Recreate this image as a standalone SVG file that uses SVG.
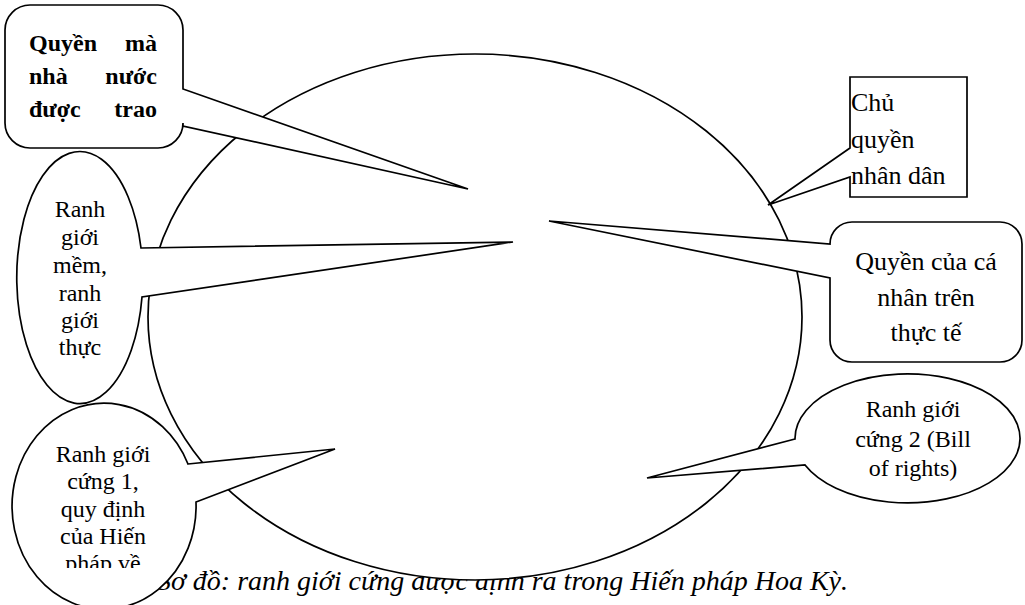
<svg xmlns="http://www.w3.org/2000/svg" width="1025" height="605" viewBox="0 0 1025 605">
<style>
.shape{fill:#fff;stroke:#000;stroke-width:1.7;stroke-linejoin:miter}
.t{font-family:"Liberation Serif","Times New Roman",serif;font-size:24px;fill:#000}
.big{font-size:26px}
.b{font-weight:bold}
.c{text-anchor:middle}
.cap{font-family:"Liberation Serif","Times New Roman",serif;font-size:28px;font-style:italic;fill:#000}
</style>
<defs>
<clipPath id="clip3"><rect x="0" y="400" width="220" height="168"/></clipPath>
</defs>
<rect width="1025" height="605" fill="#fff"/>
<text class="cap" x="848" y="590" text-anchor="end">Sơ đồ: ranh giới cứng được định ra trong Hiến pháp Hoa Kỳ.</text>
<g id="main-ellipse">
<ellipse class="shape" cx="475" cy="317" rx="327" ry="263"/>
</g>
<g id="connectors"></g>
<g id="node-quyen-nha-nuoc">
<path class="shape" d="M30,5 H158 A25,25 0 0 1 183,30 V89 L468,189 L183,126 V123 A25,25 0 0 1 158,148 H30 A25,25 0 0 1 5,123 V30 A25,25 0 0 1 30,5 Z"/>
<text class="t b" x="29" y="51">Quyền</text><text class="t b" x="157" y="51" text-anchor="end">mà</text>
<text class="t b" x="29" y="84">nhà</text><text class="t b" x="157" y="84" text-anchor="end">nước</text>
<text class="t b" x="29" y="117">được</text><text class="t b" x="157" y="117" text-anchor="end">trao</text>
</g>
<g id="node-ranh-gioi-mem">
<path class="shape" d="M141,248 L513,242 L142,297 A63,126 0 1 1 141,248 Z"/>
<text class="t c" x="80" y="217">Ranh</text>
<text class="t c" x="80" y="245">giới</text>
<text class="t c" x="80" y="273">mềm,</text>
<text class="t c" x="80" y="301">ranh</text>
<text class="t c" x="80" y="328">giới</text>
<text class="t c" x="80" y="355">thực</text>
</g>
<g id="node-ranh-gioi-cung-1">
<path class="shape" d="M188,464 L335,449 L196,502 A92,103 0 1 1 188,464 Z"/>
<g clip-path="url(#clip3)">
<text class="t c" x="103" y="462">Ranh giới</text>
<text class="t c" x="103" y="489">cứng 1,</text>
<text class="t c" x="103" y="517">quy định</text>
<text class="t c" x="103" y="544">của Hiến</text>
<text class="t c" x="103" y="571">pháp về</text>
</g>
</g>
<g id="node-chu-quyen">
<path class="shape" d="M850,77 H967 V197 H850 V177 L768,205 L850,148 Z"/>
<text class="t big" x="851" y="111">Chủ</text>
<text class="t big" x="851" y="148">quyền</text>
<text class="t big" x="851" y="184">nhân dân</text>
</g>
<g id="node-quyen-ca-nhan">
<path class="shape" d="M852,222 H1000 A22,22 0 0 1 1022,244 V340 A22,22 0 0 1 1000,362 H852 A22,22 0 0 1 830,340 V278 L549,221 L830,244 A22,22 0 0 1 852,222 Z"/>
<text class="t big c" x="926" y="270">Quyền của cá</text>
<text class="t big c" x="926" y="306">nhân trên</text>
<text class="t big c" x="926" y="341">thực tế</text>
</g>
<g id="node-ranh-gioi-cung-2">
<path class="shape" d="M795,439 L647,478 L805,465 A112.5,64.5 0 1 0 795,439 Z"/>
<text class="t c" x="913" y="417">Ranh giới</text>
<text class="t c" x="913" y="447">cứng 2 (Bill</text>
<text class="t c" x="913" y="476">of rights)</text>
</g>
</svg>
